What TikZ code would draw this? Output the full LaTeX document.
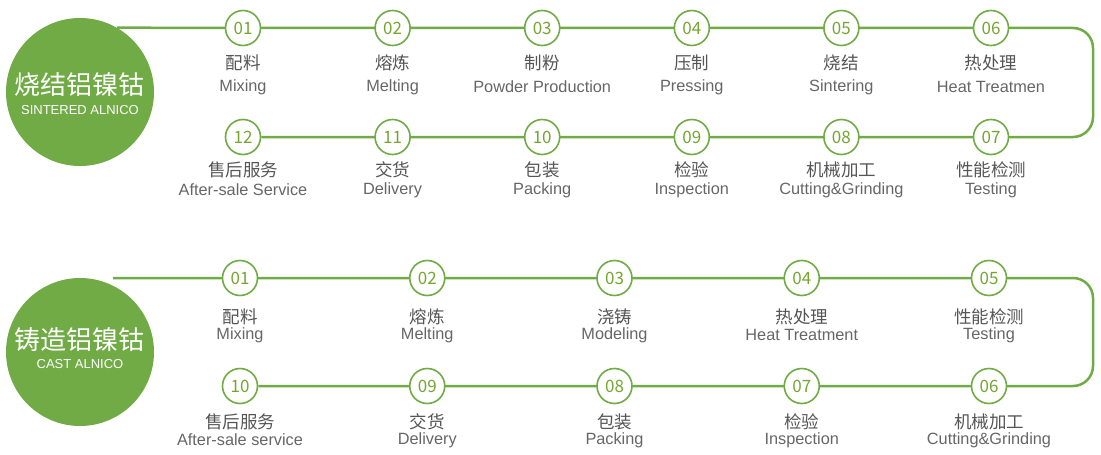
\documentclass[tikz,border=0pt]{standalone}
\usepackage{fontspec}
\setmainfont{Liberation Sans}
\newfontfamily\cjk{Noto Sans CJK SC}
\usetikzlibrary{backgrounds}
\definecolor{gr}{RGB}{112,171,69}
\definecolor{numc}{RGB}{118,166,50}
\definecolor{txt}{RGB}{85,85,85}
\definecolor{ent}{RGB}{102,102,102}
\tikzset{
  big/.style={circle, fill=gr, minimum size=148pt, inner sep=0pt},
  bigcn/.style={text=white, font=\cjk\fontsize{26}{26}\selectfont, inner sep=0pt},
  bigen/.style={text=white, font=\fontsize{13}{13}\selectfont, inner sep=0pt},
  num/.style={circle, draw=gr, line width=1.6pt, fill=white, minimum size=35pt, inner sep=0pt, text=numc, font=\cjk\fontsize{17}{17}\selectfont},
  cn/.style={text=txt, font=\cjk\fontsize{17.5}{17.5}\selectfont, inner sep=0pt},
  en/.style={text=ent, font=\fontsize{16.3}{16.3}\selectfont, inner sep=0pt},
  flow/.style={draw=gr, line width=2.5pt, rounded corners=20pt},
}
\begin{document}
\begin{tikzpicture}[x=1pt,y=-1pt]
\useasboundingbox (0,0) rectangle (1101,455);
% ---------- sintered alnico ----------
\node[big] (bigA) at (80,92) {};
\node[bigcn] (tA) at (80,85) {烧结铝镍钴};
\node[bigen] (sA) at (80,110) {SINTERED ALNICO};
\foreach \n/\c/\e [count=\i from 0] in {01/配料/Mixing, 02/熔炼/Melting, 03/制粉/Powder Production, 04/压制/Pressing, 05/烧结/Sintering, 06/热处理/Heat Treatmen}{
  \pgfmathsetmacro\x{243+149.6*\i}
  \node[num] (a\n) at (\x,28) {\n};
  \node[cn] (ac\n) at (\x,63) {\c};
  \node[en] (ae\n) at (\x,87) {\e};
}
\foreach \n/\c/\e [count=\i from 0] in {12/售后服务/After-sale Service, 11/交货/Delivery, 10/包装/Packing, 09/检验/Inspection, 08/机械加工/Cutting\&Grinding, 07/性能检测/Testing}{
  \pgfmathsetmacro\x{243+149.6*\i}
  \node[num] (a\n) at (\x,137) {\n};
  \node[cn] (ac\n) at (\x,170) {\c};
  \node[en] (ae\n) at (\x,190) {\e};
}
\coordinate (aR) at (1093,28);
\begin{scope}[on background layer]
\draw[flow] (bigA.60) -- (aR) -- (aR |- a07) -- (a12);
\end{scope}
% ---------- cast alnico ----------
\node[big] (bigB) at (80,352) {};
\node[bigcn] (tB) at (80,340) {铸造铝镍钴};
\node[bigen] (sB) at (80,364) {CAST ALNICO};
\foreach \n/\c/\e [count=\i from 0] in {01/配料/Mixing, 02/熔炼/Melting, 03/浇铸/Modeling, 04/热处理/Heat Treatment, 05/性能检测/Testing}{
  \pgfmathsetmacro\x{240+187.25*\i}
  \node[num] (b\n) at (\x,278) {\n};
  \node[cn] (bc\n) at (\x,317) {\c};
  \node[en] (be\n) at (\x,335) {\e};
}
\foreach \n/\c/\e [count=\i from 0] in {10/售后服务/After-sale service, 09/交货/Delivery, 08/包装/Packing, 07/检验/Inspection, 06/机械加工/Cutting\&Grinding}{
  \pgfmathsetmacro\x{240+187.25*\i}
  \node[num] (b\n) at (\x,386) {\n};
  \node[cn] (bc\n) at (\x,422) {\c};
  \node[en] (be\n) at (\x,440) {\e};
}
\coordinate (bS) at (113,278);
\coordinate (bR) at (1093,278);
\begin{scope}[on background layer]
\draw[flow] (bS) -- (bR) -- (bR |- b06) -- (b10);
\end{scope}
\end{tikzpicture}
\end{document}
